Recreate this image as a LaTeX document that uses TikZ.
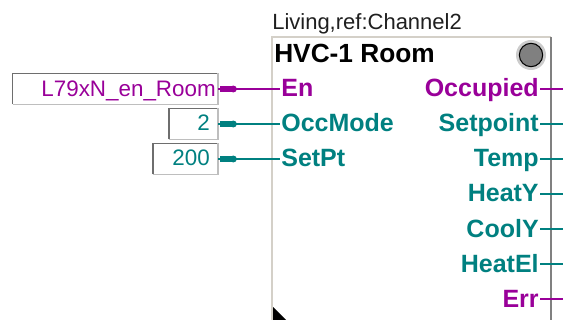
\documentclass[tikz,border=0pt]{standalone}
\usepackage{fontspec}
\setmainfont{Liberation Sans}
\definecolor{pur}{RGB}{153,0,153}
\definecolor{tea}{RGB}{0,128,128}
\definecolor{face}{RGB}{212,208,200}
\definecolor{midgray}{RGB}{128,128,128}
\definecolor{bevdark}{RGB}{110,110,110}
\definecolor{bevlight}{RGB}{190,190,190}
\begin{document}
\begin{tikzpicture}[x=0.75pt,y=-0.75pt,
  pinlabel/.style={font=\fontsize{18.75pt}{20pt}\selectfont\bfseries, inner xsep=1pt, inner ysep=0pt, outer sep=0pt, text height=15pt, text depth=3pt},
  inpin/.style={pinlabel, anchor=west},
  outpin/.style={pinlabel, anchor=east},
  vbox/.style={anchor=east, inner sep=0pt, outer sep=0pt, minimum height=23.25pt},
  valtext/.style={anchor=base east, inner sep=0pt, font=\fontsize{16.8pt}{18pt}\selectfont},
  pline/.style={line width=1pt},
  bevtl/.style={draw=bevdark, line width=1.1pt},
  bevbr/.style={draw=bevlight, line width=1.1pt}
]
\useasboundingbox (0,0) rectangle (563,320);
\coordinate (redge) at (563,0);

% function block
\node[anchor=north west, minimum width=209.25pt, minimum height=217.5pt, inner sep=0pt, outer sep=0pt] (blk) at (272,37) {};
\draw[face, line width=1.5pt] (blk.south west) -- (blk.north west) -- (blk.north east);
\draw[midgray, line width=1.2pt] (blk.north east) -- (blk.south east);

\node[anchor=base west, inner sep=0pt, font=\fontsize{16.5pt}{18pt}\selectfont, text=black!88] (refname) at (272,30) {Living,ref:Channel2};
\node[anchor=base west, inner sep=0pt, font=\fontsize{19.7pt}{22pt}\selectfont\bfseries] (title) at (274,63) {HVC-1 Room};

\node[circle, fill=gray!40, minimum size=22.5pt, inner sep=0pt] (ledhalo) at (531,55) {};
\node[circle, draw=black, fill=midgray, minimum size=17.5pt, line width=0.8pt, inner sep=0pt] (led) at (531,55) {};

\fill[black] (273,307) -- (273,322) -- (288,322) -- cycle;

% input pins
\node[inpin, text=pur] (iEn) at (280,89) {En};
\node[inpin, text=tea] (iOcc) at (280,124) {OccMode};
\node[inpin, text=tea] (iSet) at (280,159) {SetPt};

% output pins
\node[outpin, text=pur] (oOcc) at (540,89) {Occupied};
\node[outpin, text=tea] (oSet) at (540,124) {Setpoint};
\node[outpin, text=tea] (oTemp) at (540,159) {Temp};
\node[outpin, text=tea] (oHeat) at (540,194) {HeatY};
\node[outpin, text=tea] (oCool) at (540,229) {CoolY};
\node[outpin, text=tea] (oEl) at (540,264) {HeatEl};
\node[outpin, text=pur] (oErr) at (540,299) {Err};

\foreach \n/\c in {oOcc/pur,oSet/tea,oTemp/tea,oHeat/tea,oCool/tea,oEl/tea,oErr/pur}
  \draw[pline, \c] (\n.east) -- (\n.east -| redge);

% value boxes
\node[vbox, minimum width=154.1pt] (v1) at (218,89) {};
\node[vbox, minimum width=36.75pt] (v2) at (218,124) {};
\node[vbox, minimum width=48.75pt] (v3) at (218,159) {};
\foreach \v in {v1,v2,v3}{
  \draw[bevtl] (\v.south west) -- (\v.north west) -- (\v.north east);
  \draw[bevbr] (\v.north east) -- (\v.south east) -- (\v.south west);
}
\node[valtext, text=pur] (t1) at (216,97) {L79xN\_en\_Room};
\node[valtext, text=tea] (t2) at (210,131) {2};
\node[valtext, text=tea] (t3) at (210,166) {200};

% connectors
\draw[pline, pur] (v1.east) -- (iEn.west);
\draw[pline, tea] (v2.east) -- (iOcc.west);
\draw[pline, tea] (v3.east) -- (iSet.west);
\foreach \v/\c in {v1/pur,v2/tea,v3/tea}{
  \fill[\c] ([xshift=1.2pt,yshift=2.6pt]\v.east) rectangle ([xshift=11.5pt,yshift=-2.6pt]\v.east);
  \fill[\c] ([xshift=11.5pt]\v.east) circle (2.6pt);
}
\end{tikzpicture}
\end{document}
